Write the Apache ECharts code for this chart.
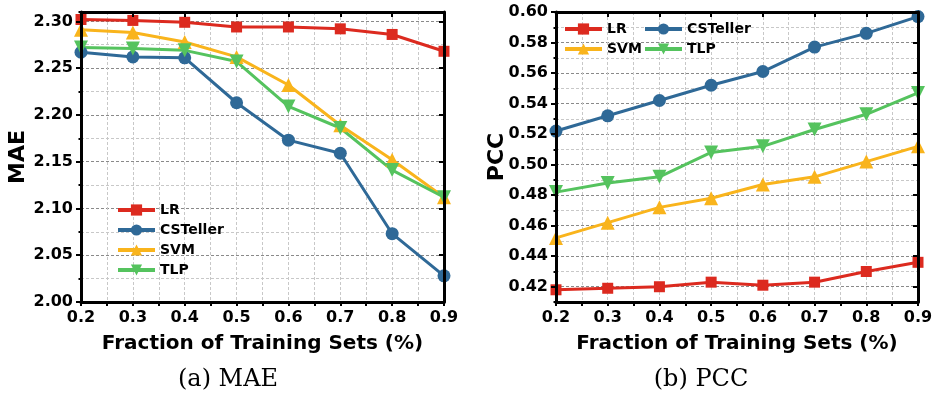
<!DOCTYPE html>
<html>
<head>
<meta charset="utf-8">
<script src="https://cdn.jsdelivr.net/npm/echarts@6/dist/echarts.min.js"></script>
<style>
html,body{margin:0;padding:0;background:#fff;}
#chart{width:937px;height:396px;}
</style>
</head>
<body>
<div id="chart"></div>
<script>
// ---------- data ----------
const fractions = [0.2, 0.3, 0.4, 0.5, 0.6, 0.7, 0.8, 0.9];
const seriesNames = ['LR', 'CSTeller', 'SVM', 'TLP'];

const maeLR       = [2.302, 2.301, 2.299, 2.294, 2.294, 2.292, 2.286, 2.268];
const maeCSTeller = [2.267, 2.262, 2.261, 2.213, 2.173, 2.159, 2.073, 2.028];
const maeSVM      = [2.291, 2.288, 2.278, 2.262, 2.232, 2.189, 2.152, 2.112];
const maeTLP      = [2.272, 2.271, 2.269, 2.257, 2.209, 2.186, 2.141, 2.112];

const pccLR       = [0.418, 0.419, 0.420, 0.423, 0.421, 0.423, 0.430, 0.436];
const pccCSTeller = [0.522, 0.532, 0.542, 0.552, 0.561, 0.577, 0.586, 0.597];
const pccSVM      = [0.452, 0.462, 0.472, 0.478, 0.487, 0.492, 0.502, 0.512];
const pccTLP      = [0.482, 0.488, 0.492, 0.508, 0.512, 0.523, 0.533, 0.547];

const xTicks   = [0.2, 0.3, 0.4, 0.5, 0.6, 0.7, 0.8, 0.9];
const maeTicks = [2.00, 2.05, 2.10, 2.15, 2.20, 2.25, 2.30];
const pccTicks = [0.42, 0.44, 0.46, 0.48, 0.50, 0.52, 0.54, 0.56, 0.58, 0.60];

const captions = ['(a) MAE', '(b) PCC'];
const xName = 'Fraction of Training Sets (%)';

// ---------- styles ----------
const colors  = ['#dc2a1f', '#2f6997', '#f9b41c', '#55c35e'];
const symbols = ['rect', 'circle', 'triangle', 'triangle'];
const symSize = [11, 13, 14, 14];
const symRot  = [0, 0, 0, 180];
const FONT = 'DejaVu Sans';
const majorGrid = '#8a8a8a';
const minorGrid = '#c8c8c8';

function dataOf(vals) { return fractions.map((x, i) => [x, vals[i]]); }

const grids = [
  {left: 81, right: 493, top: 12, bottom: 94},
  {left: 556, right: 19, top: 12, bottom: 94}
];

function xAxes(gi, name) {
  const base = {gridIndex: gi, type: 'value', min: 0.2, max: 0.9};
  return [
    Object.assign({}, base, {
      position: 'bottom', interval: 0.05,
      name: name, nameLocation: 'middle', nameGap: 32,
      nameTextStyle: {fontFamily: FONT, fontWeight: 'bold', fontSize: 20, color: '#000'},
      axisLine: {show: false},
      axisTick: {show: true, inside: false, length: 4, lineStyle: {color: '#000', width: 2}},
      axisLabel: {show: false},
      splitLine: {show: true, lineStyle: {color: minorGrid, type: [3, 2], width: 1}}
    }),
    Object.assign({}, base, {
      position: 'bottom',
      axisLine: {show: true, onZero: false, lineStyle: {color: '#000', width: 3}},
      axisTick: {show: false, customValues: xTicks},
      axisLabel: {show: true, customValues: xTicks, margin: 8,
        formatter: v => v.toFixed(1),
        fontFamily: FONT, fontWeight: 'bold', fontSize: 16, color: '#000'},
      splitLine: {show: false},
      z: 10
    }),
    Object.assign({}, base, {
      position: 'top',
      axisLine: {show: true, onZero: false, lineStyle: {color: '#000', width: 3}},
      axisTick: {show: true, inside: true, length: 5, customValues: xTicks, lineStyle: {color: '#000', width: 2}},
      axisLabel: {show: false},
      splitLine: {show: false},
      z: 10
    })
  ];
}

function yAxes(gi, name, min, max, minorInt, ticks, gridColors, nameGap) {
  const base = {gridIndex: gi, type: 'value', min: min, max: max};
  return [
    Object.assign({}, base, {
      position: 'left', interval: minorInt,
      name: name, nameLocation: 'middle', nameGap: nameGap,
      nameTextStyle: {fontFamily: FONT, fontWeight: 'bold', fontSize: 22, color: '#000'},
      axisLine: {show: false},
      axisTick: {show: true, inside: false, length: 2.5, lineStyle: {color: '#000', width: 2}},
      axisLabel: {show: false},
      splitLine: {show: true, lineStyle: {color: gridColors, type: [3, 2], width: 1}}
    }),
    Object.assign({}, base, {
      position: 'left',
      axisLine: {show: true, onZero: false, lineStyle: {color: '#000', width: 3}},
      axisTick: {show: true, inside: false, length: 5, customValues: ticks, lineStyle: {color: '#000', width: 2}},
      axisLabel: {show: true, customValues: ticks, margin: 8,
        formatter: v => v.toFixed(2),
        fontFamily: FONT, fontWeight: 'bold', fontSize: 16, color: '#000'},
      splitLine: {show: false},
      z: 10
    }),
    Object.assign({}, base, {
      position: 'right',
      axisLine: {show: true, onZero: false, lineStyle: {color: '#000', width: 3}},
      axisTick: {show: true, inside: true, length: 5, customValues: ticks, lineStyle: {color: '#000', width: 2}},
      axisLabel: {show: false},
      splitLine: {show: false},
      z: 10
    })
  ];
}

function makeSeries(gi, valsList) {
  return valsList.map((vals, k) => ({
    type: 'line',
    name: seriesNames[k],
    xAxisIndex: gi * 3,
    yAxisIndex: gi * 3,
    data: dataOf(vals),
    symbol: symbols[k],
    symbolSize: symSize[k],
    symbolRotate: symRot[k],
    showAllSymbol: true,
    clip: true,
    lineStyle: {color: colors[k], width: 3},
    itemStyle: {color: colors[k]},
    emphasis: {disabled: true},
    animation: false
  }));
}

const legendText = {fontFamily: FONT, fontWeight: 'bold', fontSize: 14, color: '#000', lineHeight: 14};
const legendCommon = {orient: 'vertical', itemWidth: 37, itemHeight: 14, padding: 0,
  textStyle: legendText, selectedMode: false, lineStyle: {width: 4}};

const option = {
  animation: false,
  backgroundColor: '#fff',
  color: colors,
  grid: grids,
  xAxis: [].concat(xAxes(0, xName), xAxes(1, xName)),
  yAxis: [].concat(
    yAxes(0, 'MAE', 2.00, 2.31, 0.025, maeTicks, [majorGrid, minorGrid], 52),
    yAxes(1, 'PCC', 0.41, 0.60, 0.01, pccTicks, [minorGrid, majorGrid], 48)
  ),
  legend: [
    Object.assign({}, legendCommon, {data: seriesNames, left: 116, top: 203, itemGap: 6}),
    Object.assign({}, legendCommon, {data: [seriesNames[0], seriesNames[2]], left: 563, top: 22, itemGap: 6}),
    Object.assign({}, legendCommon, {data: [seriesNames[1], seriesNames[3]], left: 643, top: 22, itemGap: 6})
  ],
  graphic: [
    {type: 'text', x: 228, y: 380, style: {text: captions[0], textAlign: 'center', textVerticalAlign: 'middle',
      font: '24px "DejaVu Serif"', fill: '#000'}},
    {type: 'text', x: 701, y: 380, style: {text: captions[1], textAlign: 'center', textVerticalAlign: 'middle',
      font: '24px "DejaVu Serif"', fill: '#000'}}
  ],
  series: [].concat(
    makeSeries(0, [maeLR, maeCSTeller, maeSVM, maeTLP]),
    makeSeries(1, [pccLR, pccCSTeller, pccSVM, pccTLP])
  )
};

const chart = echarts.init(document.getElementById('chart'), null, {renderer: 'canvas'});
chart.setOption(option);
</script>
</body>
</html>
